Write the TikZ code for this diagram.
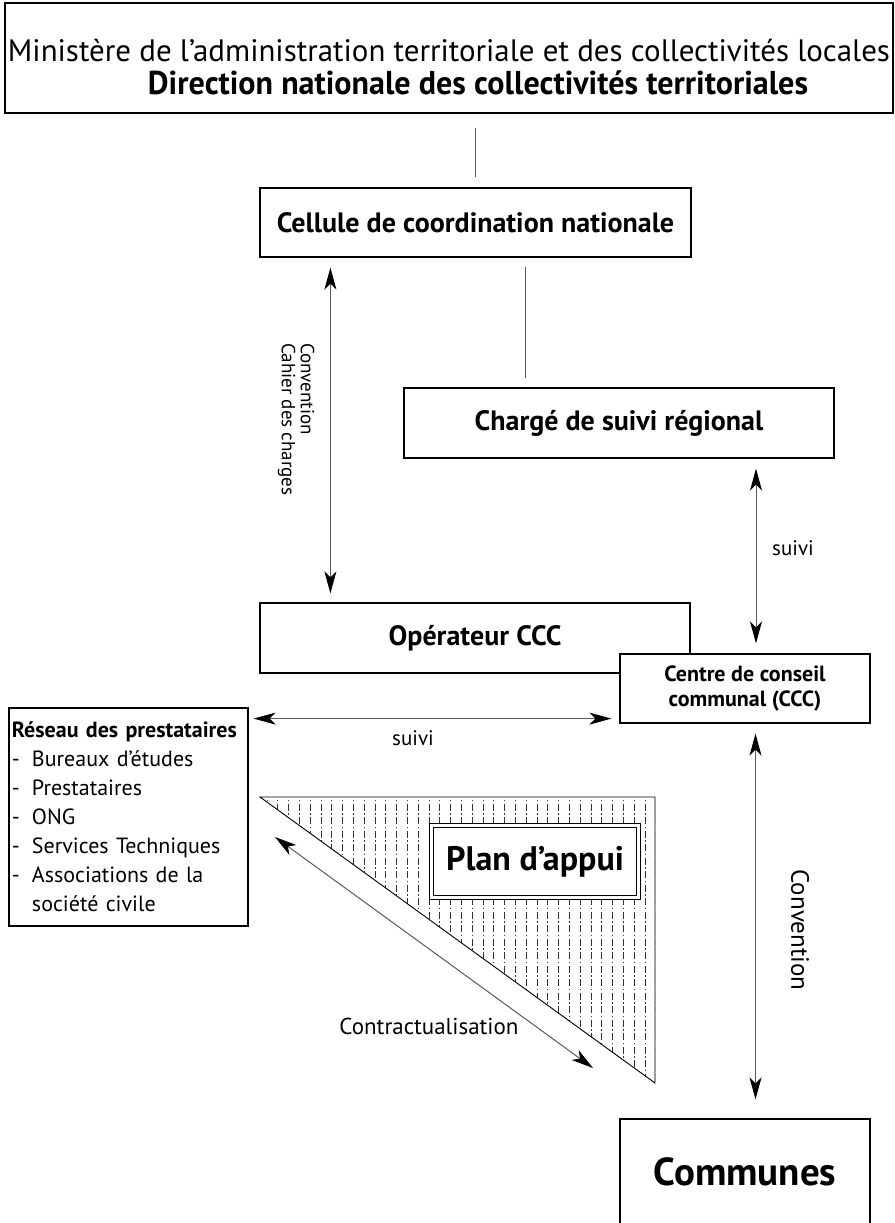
\documentclass[tikz,border=0pt]{standalone}
\usepackage{fontspec}
\setmainfont{PT Sans}
\usepackage{graphicx}
\usetikzlibrary{arrows.meta}

\tikzset{
  >={Stealth[length=22pt,width=12pt,inset=6pt,color=black]},
  box/.style={draw, line width=1.2pt, fill=white, inner sep=0pt, align=center,
    font=\fontsize{28}{32}\selectfont\bfseries},
  link/.style={draw=black!65, line width=1pt},
  twoway/.style={link, <->},
  lbl/.style={inner sep=0pt, font=\fontsize{21}{20}\selectfont},
  hatch/.style={black!80, line width=0.7pt, dash pattern=on 7pt off 2.5pt on 1.5pt off 2.5pt},
}

\begin{document}
\begin{tikzpicture}[x=1pt,y=-1pt]
  \useasboundingbox (0,0) rectangle (894,1223);

  % hatched triangle behind the plan
  \coordinate (tl) at (260,797);
  \coordinate (tr) at (655,797);
  \coordinate (br) at (655,1083);
  \begin{scope}
    \clip (tl) -- (tr) -- (br) -- cycle;
    \foreach \i in {0,...,36}
      \draw[hatch] (267+10.8*\i,790) -- ++(0,300);
  \end{scope}
  \draw[line width=0.9pt] (tl) -- (tr) -- (br) -- cycle;

  % boxes
  \node[box, minimum width=888pt, minimum height=110pt] (hdr) at (449,58) {};
  \node[anchor=base, font=\fontsize{31}{37}\selectfont] (hdr1) at (449,62)
    {\resizebox{882pt}{\height}{Ministère de l’administration territoriale et des collectivités locales}};
  \node[anchor=base, font=\fontsize{33}{37}\selectfont\bfseries] (hdr2) at (478,95)
    {\resizebox{660pt}{\height}{Direction nationale des collectivités territoriales}};

  \node[box, minimum width=431pt, minimum height=69pt] (cell) at (475.5,222.5) {Cellule de coordination nationale};
  \node[box, minimum width=430pt, minimum height=70pt] (charge) at (619,423) {Chargé de suivi régional};
  \node[box, minimum width=430pt, minimum height=70pt] (oper) at (475,638) {Opérateur CCC};
  \node[box, minimum width=250pt, minimum height=69pt, font=\fontsize{22}{25}\selectfont\bfseries]
    (ccc) at (745,688.5) {Centre de conseil\\communal (CCC)};
  \node[box, minimum width=250pt, minimum height=106pt, font=\fontsize{39}{44}\selectfont\bfseries]
    (comm) at (745,1172) {Communes};
  \node[box, double, double distance=3pt, minimum width=206.6pt, minimum height=71.6pt,
    font=\fontsize{34}{40}\selectfont\bfseries] (plan) at (535,861.5) {Plan d’appui};
  \node[box, minimum width=239pt, minimum height=218pt, text width=233pt, align=left,
    font=\fontsize{22}{29}\selectfont] (reseau) at (128.5,817)
    {\textbf{Réseau des prestataires}\\
     \makebox[20pt][l]{-}Bureaux d’études\\
     \makebox[20pt][l]{-}Prestataires\\
     \makebox[20pt][l]{-}ONG\\
     \makebox[20pt][l]{-}Services Techniques\\
     \makebox[20pt][l]{-}Associations de la\\
     \makebox[20pt][l]{}société civile};

  % connectors
  \draw[link, shorten <=14pt, shorten >=10pt] (hdr.south -| cell.north) -- (cell.north);
  \draw[link, shorten <=9pt, shorten >=9pt] ([xshift=50pt]cell.south) -- ([xshift=50pt]cell.south |- charge.north);
  \draw[twoway, shorten <=10pt, shorten >=9pt] ([xshift=71pt]cell.south west) -- ([xshift=71pt]oper.north west);
  \coordinate (cccn) at ([xshift=11pt]ccc.north);
  \draw[twoway, shorten <=10pt, shorten >=10pt] (cccn |- charge.south) -- (cccn);
  \coordinate (cccs) at ([xshift=10.5pt]ccc.south);
  \draw[twoway, shorten <=10pt, shorten >=19pt] (cccs) -- (cccs |- comm.north);
  \coordinate (cccw) at ([yshift=5pt]ccc.south west);
  \draw[twoway, shorten <=5pt, shorten >=8pt] (reseau.east |- cccw) -- (cccw);
  \coordinate (ctA) at (275,837);
  \coordinate (ctB) at (593,1068);
  \draw[twoway] (ctA) -- (ctB);

  % labels
  \node[lbl, rotate=-90, anchor=west, align=left, font=\fontsize{19}{19}\selectfont]
    (cahier) at (296,343) {Convention\\Cahier des charges};
  \node[lbl] (suivi1) at (793,548) {suivi};
  \node[lbl] (suivi2) at (413,738) {suivi};
  \node[lbl, font=\fontsize{23}{26}\selectfont] (contract) at (429,1026) {Contractualisation};
  \node[lbl, rotate=-90, font=\fontsize{25}{28}\selectfont] (conv) at (800,930) {Convention};
\end{tikzpicture}
\end{document}
